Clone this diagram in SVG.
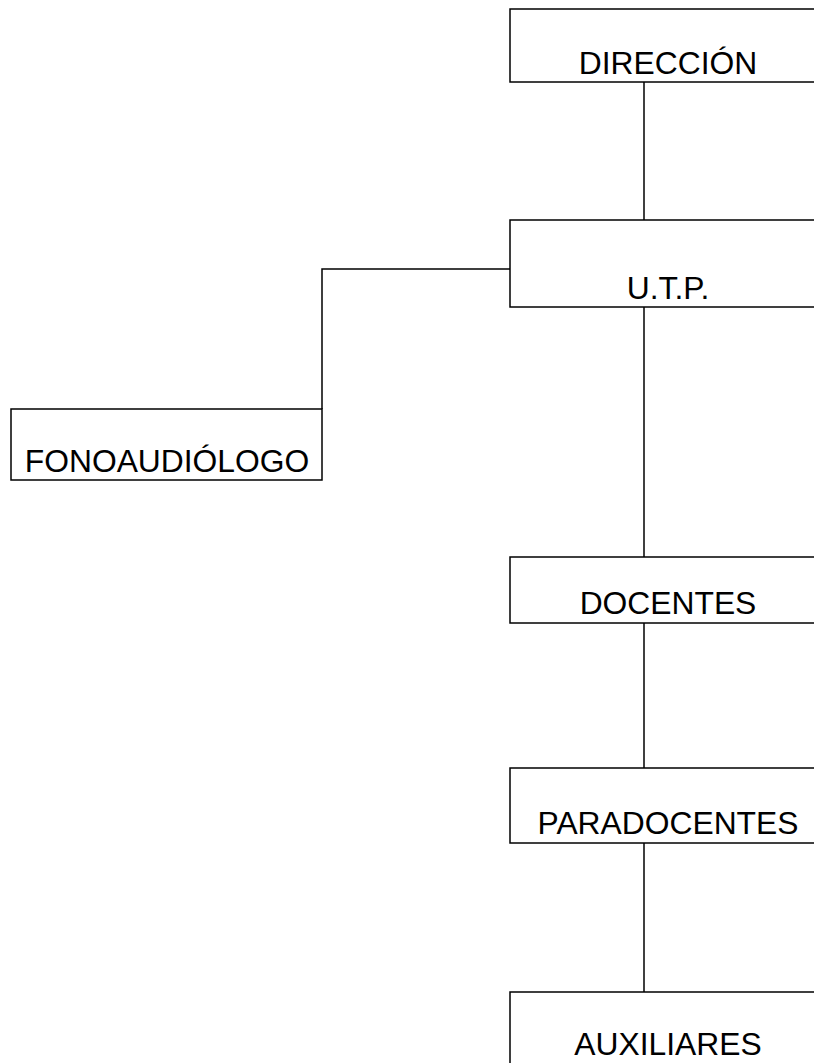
<svg xmlns="http://www.w3.org/2000/svg" width="814" height="1063" viewBox="0 0 814 1063">
<style>
.box{fill:#fff;stroke:#000;stroke-width:1.5}
.lbl{font-family:"Liberation Sans",Arial,sans-serif;font-size:31.8px;fill:#000;text-anchor:middle}
.con{fill:none;stroke:#000;stroke-width:1.5}
</style>
<rect width="814" height="1063" fill="#fff"/>
<g id="connectors">
<line class="con" x1="644" y1="82" x2="644" y2="220"/>
<polyline class="con" points="510,269 322,269 322,409"/>
<line class="con" x1="644" y1="307" x2="644" y2="557"/>
<line class="con" x1="644" y1="623" x2="644" y2="768"/>
<line class="con" x1="644" y1="843" x2="644" y2="992"/>
</g>
<g id="direccion">
<rect class="box" x="510" y="9" width="320" height="73"/>
<text class="lbl" x="668" y="74">DIRECCIÓN</text>
</g>
<g id="utp">
<rect class="box" x="510" y="220" width="320" height="87"/>
<text class="lbl" x="668" y="299">U.T.P.</text>
</g>
<g id="fonoaudiologo">
<rect class="box" x="11" y="409" width="311" height="71"/>
<text class="lbl" x="167" y="472">FONOAUDIÓLOGO</text>
</g>
<g id="docentes">
<rect class="box" x="510" y="557" width="320" height="66"/>
<text class="lbl" x="668" y="614">DOCENTES</text>
</g>
<g id="paradocentes">
<rect class="box" x="510" y="768" width="320" height="75"/>
<text class="lbl" x="668" y="834">PARADOCENTES</text>
</g>
<g id="auxiliares">
<rect class="box" x="510" y="992" width="320" height="90"/>
<text class="lbl" x="668" y="1055">AUXILIARES</text>
</g>
</svg>
